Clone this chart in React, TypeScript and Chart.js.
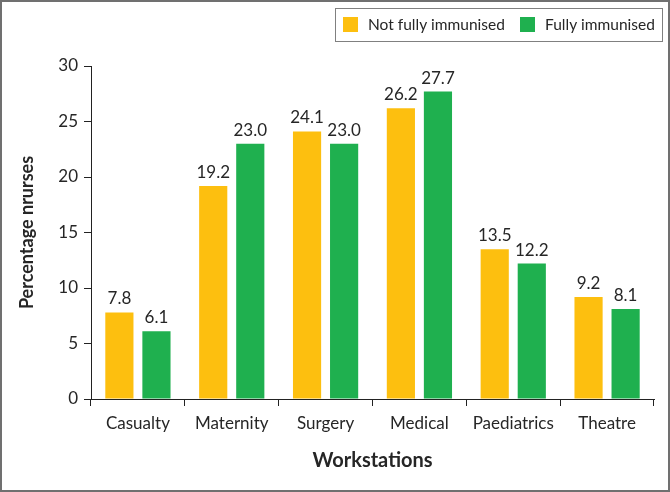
import React, { useEffect, useRef } from "react";
import { Chart, registerables } from "chart.js";

Chart.register(...registerables);

const categories = ["Casualty", "Maternity", "Surgery", "Medical", "Paediatrics", "Theatre"];
const notFully = [7.8, 19.2, 24.1, 26.2, 13.5, 9.2];
const fully = [6.1, 23.0, 23.0, 27.7, 12.2, 8.1];
const seriesNames = ["Not fully immunised", "Fully immunised"];
const yTicks = [0, 5, 10, 15, 20, 25, 30];

const ORANGE = "#FDBF0F";
const GREEN = "#1FB04F";
const TEXT = "#262626";
const FONT = "Lato, 'Open Sans', sans-serif";

const framePlugin = {
  id: "frame",
  beforeDraw(chart: any) {
    const { ctx, width, height } = chart;
    ctx.save();
    ctx.fillStyle = "#ffffff";
    ctx.fillRect(0, 0, width, height);
    ctx.restore();
  },
  afterDraw(chart: any) {
    const { ctx, width, height } = chart;
    ctx.save();
    ctx.strokeStyle = "#707070";
    ctx.lineWidth = 2;
    ctx.strokeRect(1, 1, width - 2, height - 2);
    ctx.restore();
  },
};

const labelPlugin = {
  id: "valueLabels",
  afterDatasetsDraw(chart: any) {
    const { ctx } = chart;
    ctx.save();
    ctx.font = `17px ${FONT}`;
    ctx.fillStyle = TEXT;
    ctx.textAlign = "center";
    ctx.textBaseline = "bottom";
    chart.data.datasets.forEach((ds: any, i: number) => {
      const meta = chart.getDatasetMeta(i);
      meta.data.forEach((bar: any, j: number) => {
        ctx.fillText(Number(ds.data[j]).toFixed(1), bar.x, bar.y - 5);
      });
    });
    ctx.restore();
  },
};

const legendPlugin = {
  id: "customLegend",
  afterDraw(chart: any) {
    const { ctx } = chart;
    ctx.save();
    ctx.strokeStyle = "#808080";
    ctx.lineWidth = 1;
    ctx.strokeRect(335.5, 8.5, 327, 33);
    const items = [
      { x: 343, color: ORANGE, text: seriesNames[0] },
      { x: 520, color: GREEN, text: seriesNames[1] },
    ];
    ctx.font = `15.5px ${FONT}`;
    ctx.textBaseline = "middle";
    ctx.textAlign = "left";
    items.forEach((it) => {
      ctx.fillStyle = it.color;
      ctx.fillRect(it.x, 17, 15, 15);
      ctx.fillStyle = TEXT;
      ctx.fillText(it.text, it.x + 25, 25);
    });
    ctx.restore();
  },
};

export default function App() {
  const ref = useRef<HTMLCanvasElement>(null);

  useEffect(() => {
    if (!ref.current) return;
    const chart = new Chart(ref.current, {
      type: "bar",
      data: {
        labels: categories,
        datasets: [
          { label: seriesNames[0], data: notFully, backgroundColor: ORANGE },
          { label: seriesNames[1], data: fully, backgroundColor: GREEN },
        ],
      },
      options: {
        animation: false,
        responsive: false,
        devicePixelRatio: 1,
        layout: { padding: { top: 66, right: 16, left: 0, bottom: 0 } },
        plugins: {
          legend: { display: false },
          tooltip: { enabled: false },
        },
        datasets: {
          bar: { categoryPercentage: 0.79, barPercentage: 0.76 },
        },
        scales: {
          x: {
            afterFit: (s: any) => {
              s.height = 93;
            },
            grid: {
              drawOnChartArea: false,
              drawTicks: true,
              tickLength: 7,
              color: "#222",
              offset: true,
            },
            border: { display: true, color: "#222", width: 1 },
            ticks: {
              color: TEXT,
              font: { family: FONT, size: 17 },
              padding: 7,
              maxRotation: 0,
            },
            title: {
              display: true,
              text: "Workstations",
              color: TEXT,
              font: { family: FONT, size: 20, weight: "bold" },
              padding: { top: 0, bottom: 19 },
            },
          },
          y: {
            min: 0,
            max: 30,
            afterFit: (s: any) => {
              s.width = 91;
            },
            afterBuildTicks: (s: any) => {
              s.ticks = yTicks.map((v) => ({ value: v }));
            },
            grid: {
              drawOnChartArea: false,
              drawTicks: true,
              tickLength: 7,
              color: "#222",
            },
            border: { display: true, color: "#222", width: 1 },
            ticks: {
              color: TEXT,
              font: { family: FONT, size: 17 },
              padding: 6,
            },
            title: {
              display: true,
              text: "Percentage nrurses",
              color: TEXT,
              font: { family: FONT, size: 18, weight: "bold" },
              padding: { top: 16, bottom: 0 },
            },
          },
        },
      },
      plugins: [framePlugin, labelPlugin, legendPlugin],
    });
    return () => chart.destroy();
  }, []);

  return (
    <div style={{ position: "absolute", left: 0, top: 0, width: 670, height: 492 }}>
      <canvas ref={ref} width={670} height={492} style={{ display: "block", width: 670, height: 492 }} />
    </div>
  );
}
